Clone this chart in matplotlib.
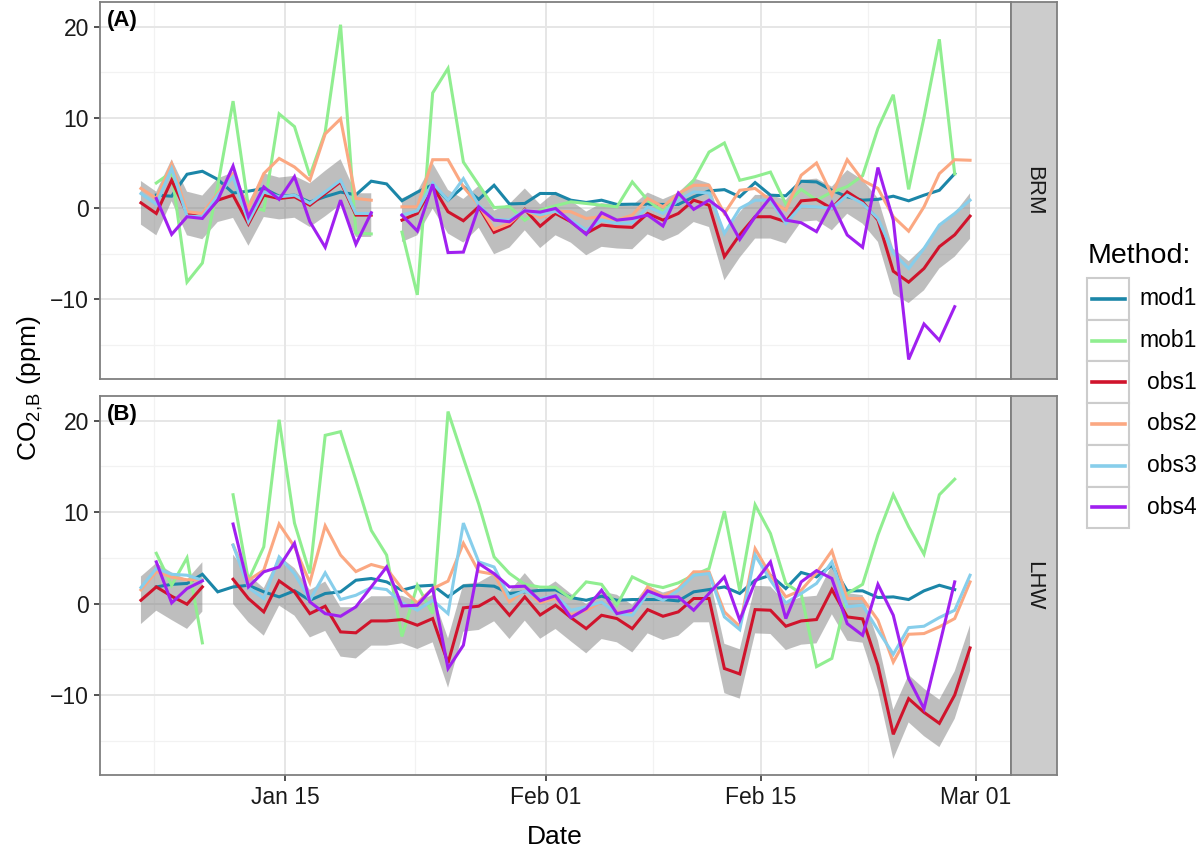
import numpy as np
import pandas as pd
import matplotlib
matplotlib.use('Agg')
import matplotlib.pyplot as plt
import matplotlib.dates as mdates
from matplotlib.patches import Rectangle
from matplotlib.lines import Line2D

plt.rcParams['font.family'] = ['Liberation Sans', 'DejaVu Sans']
plt.rcParams['mathtext.default'] = 'regular'

nan = np.nan

# daily values, first day Jan 05 (afternoon)
dates = pd.date_range('2013-01-05 15:00', periods=55, freq='D')

methods = ['mod1', 'mob1', 'obs1', 'obs2', 'obs3', 'obs4']
colors = ['#1B86A8', '#90EE90', '#D0142C', '#FBA882', '#87CEEB', '#A020F0']
sites = ['BRM', 'LHW']
panel_tags = ['(A)', '(B)']

# ---- BRM ----
brm_mod1 = [nan, 1.46, 1.35, 3.76, 4.09, 3.2, 1.7, 1.9, 2.2, 1.35, 1.46, 0.7, 1.3, 1.8, 1.5,
            3.0, 2.7, 0.85, 1.8, 2.6, 0.9, 2.4, 1.0, 2.55, 0.5, 0.55, 1.65, 1.64, 0.91, 0.66,
            0.91, 0.44, 0.47, 0.47, 0.44, 0.44, 1.28, 1.93, 2.07, 1.28, 2.85, 1.46, 1.39, 2.99,
            2.92, 2.0, 1.28, 0.91, 1.0, 1.35, 0.84, 1.46, 2.0, 3.83, nan]
brm_mob1 = [nan, 2.8, 4.0, -8.1, -6.0, 2.5, 11.8, 0.2, -0.2, 10.4, 9.0, 3.6, 8.4, 20.2, -2.7,
            -2.8, nan, -2.6, -9.5, 12.7, 15.4, 5.1, 2.6, 0.1, 0.2, -1.3, -0.2, 0.3, 0.73, 0.55,
            0.36, 0.18, 2.92, 0.91, -0.36, 1.3, 3.1, 6.2, 7.2, 3.1, 3.5, 4.0, 0.47, 2.1,
            0.91, 1.8, 2.4, 3.6, 8.8, 12.5, 2.1, 10.0, 18.6, 3.8, nan]
brm_obs1 = [0.62, -0.55, 3.1, -0.55, -0.98, 0.91, 1.46, -1.7, 1.46, 1.1, 1.28, 0.36, 1.64, 2.92,
            -0.73, -0.73, nan, -1.28, -0.55, 2.48, -0.36, -1.35, 0.18, -2.63, -1.9, -0.1, -1.95,
            -0.55, -1.46, -2.74, -1.82, -2.0, -2.08, -0.55, -1.28, -0.55, 0.91, 0.36, -5.3, -2.9,
            -0.91, -0.91, -1.46, 0.84, 0.98, 0.0, 1.82, 0.73, -1.28, -6.9, -8.1, -6.6, -4.2,
            -2.9, -0.84]
brm_obs2 = [2.2, 1.1, 4.9, -0.36, -0.55, 1.64, 3.83, 0.0, 3.83, 5.5, 4.56, 3.1, 8.2, 9.85, 1.1,
            0.91, nan, 0.18, 0.18, 5.36, 5.36, 2.37, 0.36, -2.3, -1.64, -0.18, -1.0, -0.3, -0.36,
            -1.1, -0.9, -1.28, -0.73, 1.1, 0.18, 1.64, 2.55, 2.55, -0.55, 2.0, 2.2, 0.91, -0.18,
            3.65, 5.0, 1.46, 5.36, 3.1, 2.2, -0.91, -2.5, 0.18, 3.83, 5.36, 5.3]
brm_obs3 = [1.64, 0.47, 4.4, -0.84, -0.91, 1.46, 3.47, -1.46, 1.82, 1.28, 1.46, 0.55, 1.82, 3.1,
            -0.55, -0.55, nan, -0.73, -0.26, 2.8, 0.91, 3.28, 0.36, -1.2, -1.28, -0.18, -0.7,
            -0.3, -1.28, -2.37, -1.28, -1.64, -1.57, 0.18, -0.55, 0.91, 1.82, 1.7, -2.74, 0.0,
            0.91, 0.91, -1.64, 0.26, 0.18, 0.0, 1.46, 0.55, -1.1, -4.9, -6.6, -4.4, -1.82,
            -0.55, 0.91]
brm_obs4 = [nan, 1.1, -2.85, -0.91, -1.1, 0.91, 4.67, -0.91, 2.37, 1.0, 3.5, -1.46, -4.27, 0.91,
            -3.94, -0.47, nan, -0.73, -2.48, 2.66, -4.85, -4.8, 0.18, -1.28, -1.46, -0.26, -0.4,
            0.0, -1.46, -2.85, -0.47, -1.28, -1.1, -0.73, -1.93, 1.7, -0.1, 0.91, -0.36, -3.4,
            -0.91, 1.2, -1.28, -1.57, -2.55, 0.62, -2.92, -4.27, 4.5, -1.28, -16.6, -12.7,
            -14.5, -10.8, nan]
brm_obs1_err = [2.4, 2.4, 2.3, 2.4, 2.4, 2.4, 2.5, 2.4, 2.4, 2.3, 2.3, 2.4, 2.5, 2.5, 2.4, 2.4,
                nan, 2.4, 2.4, 2.5, 2.4, 2.4, 2.3, 2.4, 2.4, 2.3, 2.4, 2.4, 2.3, 2.4, 2.4, 2.4,
                2.4, 2.3, 2.3, 2.3, 2.4, 2.4, 2.6, 2.5, 2.4, 2.4, 2.4, 2.3, 2.3, 2.4, 2.4, 2.4,
                2.4, 2.5, 2.3, 2.4, 2.4, 2.4, 2.5]

# ---- LHW ----
lhw_mod1 = [nan, 1.82, 2.1, 2.2, 3.2, 1.28, 1.82, 2.0, 1.28, 0.73, 1.4, 0.36, 1.1, 1.28, 2.55,
            2.74, 2.37, 1.46, 1.9, 2.0, 0.73, 1.93, 2.0, 1.9, 1.1, 1.28, 1.45, 1.5, 0.66, 0.36,
            0.8, 0.36, 0.44, 0.44, 0.44, 0.29, 1.28, 1.53, 1.82, 1.1, 2.55, 3.1, 1.64, 3.4,
            2.92, 4.2, 1.39, 1.39, 0.66, 0.73, 0.44, 1.39, 2.0, 1.53, nan]
lhw_mob1 = [nan, 5.5, 2.0, 5.0, -4.3, nan, 11.9, 2.55, 6.2, 20.1, 8.8, 3.3, 18.4, 18.8, 13.5,
            8.0, 5.3, -3.6, 2.0, -1.1, 21.0, 15.9, 10.9, 5.1, 3.3, 2.1, 1.8, 1.78, 0.55, 2.37,
            2.1, -0.18, 2.92, 2.1, 1.75, 2.26, 3.1, 3.83, 10.1, 1.39, 10.8, 7.66, 2.2, 1.1,
            -6.9, -6.0, 1.1, 2.1, 7.5, 11.9, 8.4, 5.4, 11.9, 13.6, nan]
lhw_obs1 = [0.36, 1.82, 0.8, -0.07, 1.82, nan, 2.66, 0.55, -0.91, 2.48, 1.28, -1.1, -0.29, -3.1,
            -3.2, -1.9, -1.9, -1.75, -2.37, -1.64, -6.5, -0.47, -0.29, 0.66, -1.28, 0.73, -1.25,
            -0.18, -1.53, -2.74, -1.28, -1.64, -2.74, -0.66, -1.39, -0.91, 0.55, 0.55, -7.1,
            -7.7, -0.66, -0.73, -2.48, -1.9, -1.75, 1.53, -1.46, -1.68, -6.75, -14.3, -10.4,
            -11.9, -13.1, -10.0, -4.85]
lhw_obs2 = [1.5, 3.5, 2.9, 2.6, 2.6, nan, 6.4, 2.55, 3.65, 8.7, 6.2, 2.3, 8.5, 5.3, 3.5, 4.27,
            3.83, 1.64, 0.07, 1.64, 2.45, 6.6, 3.5, 3.2, 0.18, 1.46, 0.1, 0.6, -1.28, -0.73,
            0.18, -0.91, -1.1, 1.82, 0.8, 1.64, 3.47, 3.47, -0.91, -2.5, 6.0, 3.1, 0.73, 1.46,
            3.36, 5.77, 0.55, 0.55, -1.82, -6.4, -3.36, -3.28, -2.55, -1.64, 2.37]
lhw_obs3 = [1.75, 3.83, 3.2, 3.1, 2.55, nan, 6.4, 1.75, 0.55, 5.1, 3.28, 0.36, 3.36, 0.44, 0.91,
            1.75, 1.53, 0.07, -0.73, 0.36, -1.1, 8.8, 4.56, 4.0, 0.66, 1.39, 0.5, 0.9, -0.73,
            -0.36, 0.18, -1.1, -1.28, 1.1, 0.36, 1.46, 3.1, 3.28, -1.46, -2.85, 5.3, 2.55, 0.07,
            1.1, 2.2, 4.56, -0.36, -0.18, -2.92, -5.55, -2.63, -2.48, -1.53, -0.73, 3.1]
lhw_obs4 = [nan, 4.56, 0.07, 1.64, 2.48, nan, 8.7, 1.82, 3.47, 4.0, 6.6, 0.18, -1.1, -1.39, -0.36,
            1.82, 4.0, -0.26, -0.18, 1.64, -7.1, -4.56, 4.38, 3.28, 1.82, 1.9, 0.3, 0.85, -1.53,
            -0.55, 1.46, -1.1, -0.73, 1.39, 0.73, 0.73, -0.73, 1.1, 2.92, -1.82, 2.37, 4.56,
            -1.64, 2.37, 3.6, 2.74, -2.2, -3.47, 2.1, -1.28, -8.2, -11.5, -4.6, 2.37, nan]
lhw_obs1_err = [2.6, 2.6, 2.6, 2.7, 2.7, nan, 2.7, 2.6, 2.6, 2.7, 2.6, 2.6, 2.7, 2.7, 2.8, 2.7,
                2.7, 2.6, 2.6, 2.6, 2.7, 2.6, 2.6, 2.6, 2.6, 2.6, 2.6, 2.6, 2.6, 2.7, 2.6, 2.6,
                2.6, 2.6, 2.6, 2.6, 2.6, 2.6, 2.7, 2.7, 2.6, 2.6, 2.6, 2.6, 2.6, 2.7, 2.6, 2.6,
                2.7, 2.7, 2.6, 2.6, 2.6, 2.6, 2.5]

series = {
    'BRM': [brm_mod1, brm_mob1, brm_obs1, brm_obs2, brm_obs3, brm_obs4],
    'LHW': [lhw_mod1, lhw_mob1, lhw_obs1, lhw_obs2, lhw_obs3, lhw_obs4],
}
ribbon = {'BRM': brm_obs1_err, 'LHW': lhw_obs1_err}

major_x = pd.to_datetime(['2013-01-15 00:00', '2013-02-01 00:00', '2013-02-15 00:00',
                          '2013-03-01 00:00'])
minor_x = pd.to_datetime(['2013-01-06 12:00', '2013-01-23 12:00', '2013-02-08 00:00',
                          '2013-02-22 00:00'])
xlim = pd.to_datetime(['2013-01-02 23:00', '2013-03-03 07:00'])
ylim = (-18.75, 22.7)

W, H = 1200, 856
fig = plt.figure(figsize=(W / 100, H / 100), dpi=100)


def box(x0, y0, x1, y1):
    # pixel box (top-left origin) -> figure fraction rect
    return [x0 / W, 1 - y1 / H, (x1 - x0) / W, (y1 - y0) / H]


panel_px = [(2, 379), (396, 775)]
for k, site in enumerate(sites):
    y0, y1 = panel_px[k]
    ax = fig.add_axes(box(100, y0, 1011, y1))
    ax.set_xlim(xlim[0], xlim[1])
    ax.set_ylim(*ylim)

    # grid
    for v in minor_x:
        ax.axvline(v, color='#F2F2F2', lw=0.9, zorder=0)
    for v in [-15, -5, 5, 15]:
        ax.axhline(v, color='#F2F2F2', lw=0.9, zorder=0)
    for v in major_x:
        ax.axvline(v, color='#E6E6E6', lw=1.4, zorder=0)
    for v in [-10, 0, 10, 20]:
        ax.axhline(v, color='#E6E6E6', lw=1.4, zorder=0)

    obs1 = np.array(series[site][2], dtype=float)
    err = np.array(ribbon[site], dtype=float)
    ax.fill_between(dates, obs1 - err, obs1 + err, color='#7F7F7F', alpha=0.5,
                    lw=0, zorder=1)
    for vals, c in zip(series[site], colors):
        ax.plot(dates, np.array(vals, dtype=float), color=c, lw=2.2, zorder=2,
                solid_joinstyle='miter')

    ax.set_yticks([-10, 0, 10, 20])
    ax.set_xticks(major_x)
    ax.xaxis.set_major_formatter(mdates.DateFormatter('%b %d'))
    ax.tick_params(axis='both', labelsize=16.5, length=4, width=1.2, color='#333333',
                   labelcolor='#1A1A1A', pad=4)
    if k == 0:
        ax.tick_params(axis='x', length=0, labelbottom=False)
    for s in ax.spines.values():
        s.set_color('#7F7F7F')
        s.set_linewidth(1.3)
    ax.text(0.008, 0.95, panel_tags[k], transform=ax.transAxes, fontsize=16,
            fontweight='bold', ha='left', va='center')

    # facet strip on the right
    sax = fig.add_axes(box(1011, y0, 1057, y1))
    sax.set_xticks([])
    sax.set_yticks([])
    sax.set_facecolor('#CCCCCC')
    for s in sax.spines.values():
        s.set_color('#7F7F7F')
        s.set_linewidth(1.3)
    sax.text(0.5, 0.5, site, rotation=270, fontsize=16, color='#1A1A1A',
             ha='center', va='center', transform=sax.transAxes)

fig.text(555 / W, 1 - 837 / H, 'Date', fontsize=19, ha='center', va='center')
fig.text(30 / W, 1 - 388 / H, r'CO$_{2,\!B}$ (ppm)', fontsize=19, rotation=90,
         ha='center', va='center')

# legend
fig.text(1088 / W, 1 - 256 / H, 'Method:', fontsize=20.5, ha='left', va='center')
row_h = 41.7
for i, (m, c) in enumerate(zip(methods, colors)):
    top = 278 + i * row_h
    fig.patches.append(Rectangle((1087 / W, 1 - (top + row_h) / H), 42 / W, row_h / H,
                                 transform=fig.transFigure, facecolor='white',
                                 edgecolor='#CCCCCC', lw=1.5))
    yc = 1 - (top + row_h / 2) / H
    fig.lines.append(Line2D([1092 / W, 1125 / W], [yc, yc], transform=fig.transFigure,
                            color=c, lw=2.6))
    fig.text(1197 / W, yc, m, fontsize=16.5, ha='right', va='center')

fig.savefig('out.png', dpi=100)
